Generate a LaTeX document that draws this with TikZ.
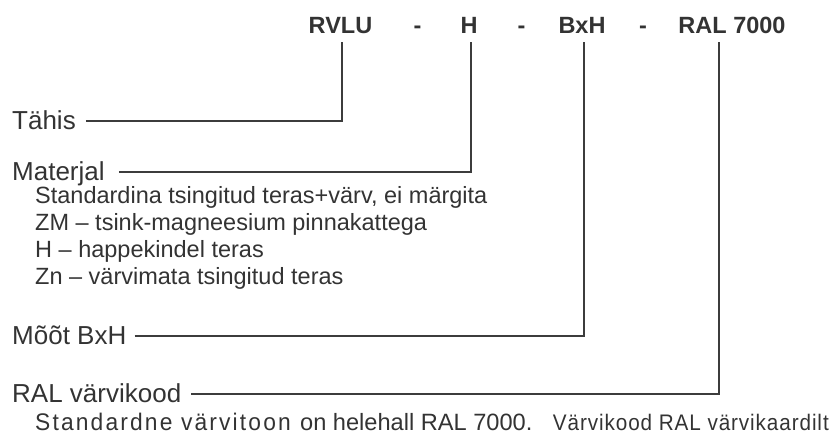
\documentclass[tikz,border=0pt]{standalone}
\usepackage{fontspec}
\setmainfont{Liberation Sans}
\newfontfamily\condA[FakeStretch=0.95,LetterSpace=9]{Liberation Sans}
\newfontfamily\condB[FakeStretch=0.92,LetterSpace=4]{Liberation Sans}
\definecolor{ink}{HTML}{333333}
\definecolor{wire}{HTML}{3C3C3C}
\begin{document}
\begin{tikzpicture}[x=1pt,y=-1pt,
  head/.style={anchor=base, inner sep=0pt, font=\fontsize{23.5pt}{28pt}\selectfont\bfseries, text=ink},
  lbl/.style={anchor=base west, inner sep=0pt, font=\fontsize{26pt}{30pt}\selectfont, text=ink},
  sub/.style={anchor=base west, inner sep=0pt, font=\fontsize{23.5pt}{28pt}\selectfont, text=ink},
  wireline/.style={draw=wire, line width=1.6pt}]
\path[use as bounding box] (0,0) rectangle (833,435);
% header
\node[head] (rvlu) at (340.5,34) {RVLU};
\node[head] (d1) at (417.5,34) {-};
\node[head] (h) at (469,34) {H};
\node[head] (d2) at (521.5,34) {-};
\node[head] (bxh) at (582,34) {BxH};
\node[head] (d3) at (643,34) {-};
\node[head] (ral) at (732,34) {RAL 7000};
\coordinate (t1) at (342,42);
\coordinate (t2) at (471,42);
\coordinate (t3) at (584,42);
\coordinate (t4) at (719,42);
% labels
\node[lbl] (tahis) at (12,130) {Tähis};
\node[lbl] (mat) at (12,181) {Materjal};
\node[sub] (s1) at (35,204) {Standardina tsingitud teras+värv, ei märgita};
\node[sub] (s2) at (35,231) {ZM – tsink-magneesium pinnakattega};
\node[sub] (s3) at (35,258) {H – happekindel teras};
\node[sub] (s4) at (35,285) {Zn – värvimata tsingitud teras};
\node[lbl] (moot) at (12,345) {Mõõt BxH};
\node[lbl] (ralk) at (12,403) {RAL värvikood};
\node[anchor=base west, inner sep=0pt, text=ink, font=\fontsize{24pt}{28pt}\condA] (n1) at (35,431) {Standardne värvitoon};
\node[anchor=base west, inner sep=0pt, text=ink, font=\fontsize{23.6pt}{28pt}\selectfont] (n2) at (300,431) {on helehall RAL 7000.};
\node[anchor=base east, inner sep=0pt, text=ink, font=\fontsize{22.5pt}{28pt}\condB] (n3) at (829,431) {Värvikood RAL värvikaardilt};
% connectors
\draw[wireline] ([shift={(10,-9)}]tahis.base east) -| (t1);
\draw[wireline] ([shift={(14,-9)}]mat.base east) -| (t2);
\draw[wireline] ([shift={(8,-9)}]moot.base east) -| (t3);
\draw[wireline] ([shift={(10,-9)}]ralk.base east) -| (t4);
\end{tikzpicture}
\end{document}
